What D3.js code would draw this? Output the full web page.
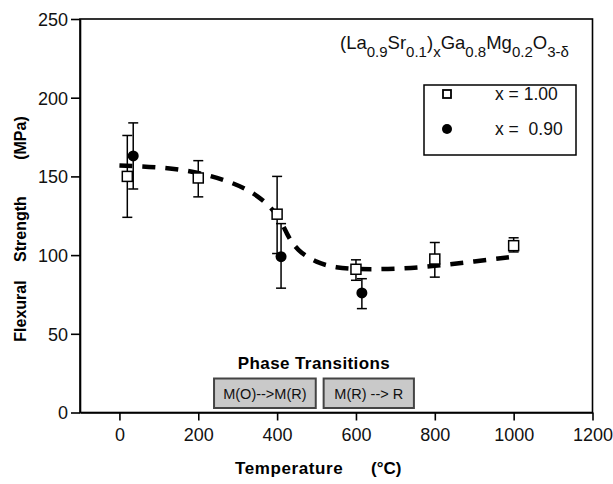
<!DOCTYPE html>
<html>
<head>
<meta charset="utf-8">
<script src="https://cdn.jsdelivr.net/npm/d3@7"></script>
<style>
  body { margin: 0; background: #fff; }
  text { font-family: "Liberation Sans", Arial, sans-serif; }
</style>
</head>
<body>
<script>
// x = 1.00 series (open squares)
var tempSq = [20, 200, 400, 600, 800, 1000];
var strengthSq = [150, 149, 126, 91, 97.5, 106];
var errLoSq = [124, 137, 101, 84, 86, 102];
var errHiSq = [176, 160, 150, 97, 108, 111];

// x = 0.90 series (filled circles)
var tempCi = [35, 410, 615];
var strengthCi = [163, 99, 76];
var errLoCi = [142, 79, 66];
var errHiCi = [184, 120, 85];

// dashed guide curve
var curveT = [0, 100, 200, 300, 350, 400, 425, 450, 500, 550, 600, 700, 800, 900, 1000];
var curveS = [157, 156, 153, 145, 138, 127, 113, 103, 95, 92, 91, 91, 93, 96, 99];

var xTicks = [0, 200, 400, 600, 800, 1000, 1200];
var yTicks = [0, 50, 100, 150, 200, 250];

var phaseLabels = ['M(O)-->M(R)', 'M(R) --> R'];
var phaseStart = [240, 518];
var phaseEnd = [498, 747];

var legendLabels = ['x = 1.00', 'x =  0.90'];

var scr = { w: 613, h: 484 };
var svg = d3.select('body').append('svg')
  .attr('width', scr.w)
  .attr('height', scr.h);

var x = d3.scaleLinear().domain([-100, 1200]).range([80, 592.5]);
var y = d3.scaleLinear().domain([0, 250]).range([412.5, 19]);

// frame
svg.append('rect')
  .attr('x', x(-100)).attr('y', y(250))
  .attr('width', x(1200) - x(-100)).attr('height', y(0) - y(250))
  .attr('fill', 'none').attr('stroke', '#000').attr('stroke-width', 1.6);

var xAxis = d3.axisBottom(x).tickValues(xTicks).tickFormat(d3.format('d')).tickSize(8).tickSizeOuter(0);
var yAxis = d3.axisLeft(y).tickValues(yTicks).tickSize(9).tickSizeOuter(0);

var gx = svg.append('g').attr('transform', 'translate(0,' + y(0) + ')').call(xAxis);
var gy = svg.append('g').attr('transform', 'translate(' + x(-100) + ',0)').call(yAxis);
[gx, gy].forEach(function(g){
  g.select('.domain').attr('stroke-width', 1.6);
  g.selectAll('.tick line').attr('stroke-width', 1.6);
  g.selectAll('.tick text')
   .attr('font-family', '"Liberation Sans", Arial, sans-serif')
   .attr('font-size', 18).attr('fill', '#111');
});
gx.selectAll('.tick text').attr('y', 16).attr('dy', '0.71em');
gy.selectAll('.tick text').attr('x', -12).attr('dy', '0.36em');

// axis titles
svg.append('text')
  .attr('x', 235).attr('y', 474)
  .attr('font-size', 17).attr('font-weight', 'bold')
  .attr('letter-spacing', 0.6)
  .text('Temperature');
svg.append('text')
  .attr('x', 371).attr('y', 474)
  .attr('font-size', 17).attr('font-weight', 'bold')
  .text('(\u00B0C)');

var yTitle = [['Flexural', 311], ['Strength', 229], ['(MPa)', 138]];
yTitle.forEach(function(p){
  svg.append('text')
    .attr('transform', 'translate(26,' + p[1] + ') rotate(-90)')
    .attr('text-anchor', 'middle')
    .attr('font-size', 16).attr('font-weight', 'bold')
    .text(p[0]);
});

// dashed curve
var line = d3.line()
  .x(function(d){ return x(d[0]); })
  .y(function(d){ return y(d[1]); })
  .curve(d3.curveBasis);
svg.append('path')
  .datum(d3.zip(curveT, curveS))
  .attr('d', line)
  .attr('fill', 'none').attr('stroke', '#000')
  .attr('stroke-width', 4.5)
  .attr('stroke-dasharray', '13,10');

// error bars
function errorBars(ts, lo, hi) {
  var g = svg.append('g').attr('stroke', '#000').attr('stroke-width', 1.5);
  ts.forEach(function(t, i){
    g.append('line').attr('x1', x(t)).attr('x2', x(t)).attr('y1', y(lo[i])).attr('y2', y(hi[i]));
    g.append('line').attr('x1', x(t) - 5).attr('x2', x(t) + 5).attr('y1', y(lo[i])).attr('y2', y(lo[i]));
    g.append('line').attr('x1', x(t) - 5).attr('x2', x(t) + 5).attr('y1', y(hi[i])).attr('y2', y(hi[i]));
  });
}
errorBars(tempSq, errLoSq, errHiSq);
errorBars(tempCi, errLoCi, errHiCi);

svg.append('g').selectAll('rect')
  .data(d3.zip(tempSq, strengthSq))
  .enter().append('rect')
  .attr('x', function(d){ return x(d[0]) - 5; })
  .attr('y', function(d){ return y(d[1]) - 5; })
  .attr('width', 10).attr('height', 10)
  .attr('fill', '#fff').attr('stroke', '#000').attr('stroke-width', 1.5);

svg.append('g').selectAll('circle')
  .data(d3.zip(tempCi, strengthCi))
  .enter().append('circle')
  .attr('cx', function(d){ return x(d[0]); })
  .attr('cy', function(d){ return y(d[1]); })
  .attr('r', 5.5)
  .attr('fill', '#000');

// title with subscripts
var title = svg.append('text')
  .attr('x', 340).attr('y', 49)
  .attr('font-size', 18).attr('fill', '#111');
var parts = [['(La', 0], ['0.9', 1], ['Sr', 0], ['0.1', 1], [')', 0], ['x', 1], ['Ga', 0], ['0.8', 1],
             ['Mg', 0], ['0.2', 1], ['O', 0], ['3-\u03B4', 1]];
var prev = 0;
parts.forEach(function(p){
  var off = (p[1] - prev) * 8;
  title.append('tspan')
    .attr('dy', off)
    .attr('font-size', p[1] ? 15 : 18.5)
    .text(p[0]);
  prev = p[1];
});

// legend
var leg = svg.append('g');
leg.append('rect')
  .attr('x', 424).attr('y', 85).attr('width', 152).attr('height', 70)
  .attr('fill', '#fff').attr('stroke', '#000').attr('stroke-width', 1.5);
leg.append('rect').attr('x', 443).attr('y', 90).attr('width', 8).attr('height', 8)
  .attr('fill', '#fff').attr('stroke', '#000').attr('stroke-width', 1.8);
leg.append('circle').attr('cx', 447).attr('cy', 129).attr('r', 5).attr('fill', '#000');
leg.selectAll('text.lbl')
  .data(legendLabels)
  .enter().append('text')
  .attr('x', 495)
  .attr('y', function(d, i){ return 94 + i * 35; })
  .attr('dy', '0.36em')
  .attr('font-size', 17.5).attr('fill', '#111')
  .style('white-space', 'pre')
  .text(function(d){ return d; });

// phase transitions
svg.append('text')
  .attr('x', (x(phaseStart[0]) + x(phaseEnd[1])) / 2).attr('y', 369)
  .attr('text-anchor', 'middle')
  .attr('font-size', 17).attr('font-weight', 'bold')
  .attr('letter-spacing', 0.4)
  .text('Phase Transitions');

var ph = svg.append('g').selectAll('g')
  .data(phaseLabels)
  .enter().append('g');
ph.append('rect')
  .attr('x', function(d, i){ return x(phaseStart[i]); })
  .attr('y', 378.5)
  .attr('width', function(d, i){ return x(phaseEnd[i]) - x(phaseStart[i]); })
  .attr('height', 29.5)
  .attr('fill', '#c9c9c9').attr('stroke', '#444').attr('stroke-width', 2);
ph.append('text')
  .attr('x', function(d, i){ return (x(phaseStart[i]) + x(phaseEnd[i])) / 2; })
  .attr('y', 394)
  .attr('dy', '0.36em')
  .attr('text-anchor', 'middle')
  .attr('font-size', 14.5).attr('fill', '#111')
  .style('white-space', 'pre')
  .text(function(d){ return d; });
</script>
</body>
</html>
